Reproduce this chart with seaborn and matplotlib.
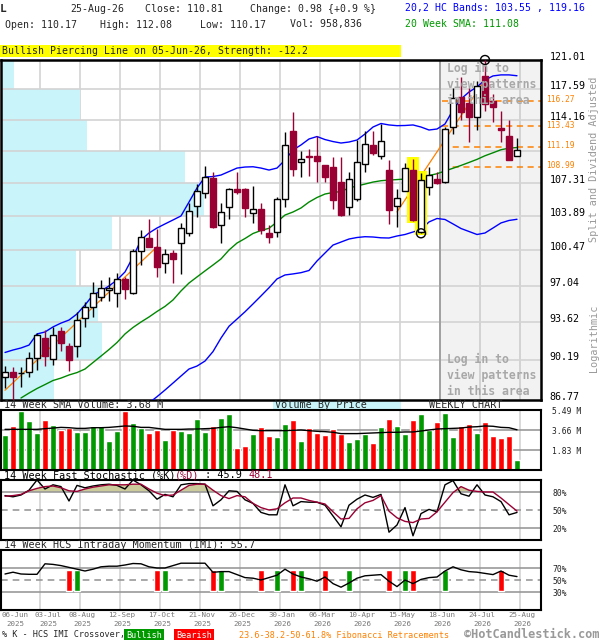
import numpy as np
import pandas as pd
import seaborn as sns
import matplotlib.pyplot as plt
from matplotlib.patches import Rectangle
from matplotlib.ticker import NullLocator, NullFormatter
from matplotlib.transforms import blended_transform_factory, ScaledTranslation

sns.set_theme(style="white")
plt.rcParams['font.family'] = ['DejaVu Sans Mono', 'DejaVu Sans']

# weekly candles, 06-Jun-2025 .. 25-Aug-2026
opens = [88.71, 89.20, 89.10, 89.20, 90.38, 92.16, 90.29, 92.83, 91.47, 91.47,
         93.99, 95.01, 96.00, 96.63, 96.32, 97.65, 96.38, 100.38, 101.64, 100.74,
         99.19, 100.16, 101.14, 102.20, 104.87, 106.21, 107.78, 102.98, 104.80, 106.66,
         106.63, 104.15, 104.59, 102.20, 102.30, 105.59, 112.92, 109.55, 110.19, 110.19,
         109.16, 109.02, 107.42, 104.83, 105.63, 109.33, 111.36, 110.19, 108.70, 104.88,
         106.50, 108.70, 102.30, 106.88, 107.71, 107.42, 113.34, 116.69, 115.99, 114.41,
         119.16, 116.26, 113.26, 112.37, 110.17]
highs = [89.73, 89.61, 89.64, 90.97, 92.65, 92.92, 93.22, 93.22, 91.77, 94.60,
         95.53, 97.42, 97.58, 97.84, 98.28, 97.84, 100.55, 102.47, 103.55, 102.54,
         100.55, 100.48, 103.15, 105.18, 107.18, 109.08, 108.48, 105.18, 106.77, 108.41,
         106.74, 106.97, 105.18, 102.98, 105.80, 112.81, 115.04, 110.73, 110.89, 112.34,
         109.16, 110.05, 110.05, 108.48, 111.93, 112.89, 112.89, 113.66, 109.76, 106.63,
         109.41, 109.84, 108.31, 108.94, 108.48, 113.34, 117.73, 119.04, 117.73, 118.50,
         121.01, 117.01, 115.07, 114.11, 112.08]
lows = [87.77, 86.60, 87.90, 88.77, 89.35, 89.70, 89.79, 91.06, 89.29, 90.52,
        93.22, 94.13, 95.60, 95.63, 95.07, 95.76, 96.25, 99.02, 100.74, 97.90,
        98.28, 97.32, 98.16, 101.87, 103.76, 105.70, 102.64, 101.14, 103.55, 106.11,
        103.82, 103.21, 102.07, 101.14, 101.80, 104.83, 108.06, 107.89, 108.03, 107.42,
        107.39, 104.59, 103.88, 103.95, 105.40, 108.48, 110.27, 109.84, 103.06, 102.81,
        106.42, 103.36, 102.14, 106.04, 107.14, 107.28, 112.58, 114.11, 111.67, 112.95,
        115.12, 113.92, 111.67, 109.70, 110.17]
closes = [89.20, 88.71, 89.13, 90.38, 92.47, 90.61, 92.47, 91.71, 90.23, 93.83,
          95.01, 96.32, 96.79, 96.79, 97.65, 96.70, 100.38, 101.74, 100.80, 98.86,
          100.06, 99.58, 102.64, 104.42, 106.42, 107.89, 102.80, 104.31, 106.63, 106.38,
          104.70, 104.56, 102.47, 101.80, 105.59, 111.36, 108.80, 109.81, 110.02, 109.62,
          107.95, 105.52, 103.98, 107.71, 109.55, 111.44, 110.45, 111.74, 104.54, 105.72,
          108.88, 103.46, 107.60, 108.09, 107.25, 113.15, 116.57, 115.04, 114.48, 117.92,
          115.91, 115.54, 113.00, 109.76, 110.81]

# volume in millions
volumes = [3.20, 4.03, 5.43, 4.48, 3.39, 4.58, 4.12, 3.63, 3.81, 3.48,
           3.48, 4.03, 4.03, 2.65, 3.57, 5.43, 4.30, 3.87, 3.39, 3.69,
           2.75, 3.69, 3.57, 3.39, 4.67, 3.48, 4.03, 4.76, 5.12, 2.01,
           2.20, 3.29, 3.93, 3.11, 3.02, 4.21, 4.58, 2.65, 3.84, 3.39,
           3.20, 3.75, 3.26, 2.56, 2.84, 3.32, 2.47, 3.93, 4.67, 4.03,
           3.32, 4.58, 5.12, 3.66, 4.39, 5.22, 3.02, 4.03, 4.21, 3.39,
           4.39, 3.11, 2.93, 3.11, 0.96]
vol_sma = [3.72, 3.72, 3.72, 3.72, 3.72, 3.78, 3.84, 3.90, 3.87, 3.81,
           3.81, 3.87, 3.87, 3.90, 3.96, 4.03, 4.00, 3.90, 3.90, 3.81,
           3.72, 3.72, 3.72, 3.75, 3.75, 3.78, 3.81, 3.90, 3.96, 3.87,
           3.75, 3.63, 3.60, 3.60, 3.60, 3.60, 3.63, 3.66, 3.60, 3.54,
           3.51, 3.45, 3.33, 3.33, 3.33, 3.36, 3.39, 3.42, 3.45, 3.45,
           3.48, 3.48, 3.57, 3.66, 3.75, 3.78, 3.81, 3.84, 3.93, 3.96,
           4.03, 4.00, 3.90, 3.87, 3.68]

nan = np.nan
hc_upper = [90.90, 91.12, 91.30, 91.56, 92.56, 92.74, 93.20, 93.55, 93.83, 94.39,
            95.22, 96.16, 96.54, 97.01, 97.58, 98.35, 99.80, 101.47, 102.17, 102.67,
            103.08, 103.48, 103.89, 105.31, 106.77, 107.92, 107.97, 108.13, 108.50, 108.87,
            108.98, 109.01, 108.87, 108.66, 108.87, 109.73, 110.81, 111.36, 112.01, 112.28,
            111.95, 111.73, 111.57, 111.68, 111.90, 112.56, 113.33, 113.72, 113.56, 113.48,
            113.50, 113.56, 113.33, 113.00, 113.11, 113.67, 115.23, 116.48, 117.28, 117.86,
            118.67, 119.14, 119.26, 119.26, 119.16]
hc_lower = [nan] * 18 + [
            86.52, 87.05, 87.62, 88.22, 88.83, 89.44, 89.70, 90.14, 90.98, 92.19,
            93.26, 93.92, 94.59, 95.32, 96.07, 96.84, 97.68, 98.06, 98.16, 98.28,
            98.49, 99.41, 100.19, 100.97, 101.27, 101.57, 101.72, 101.80, 101.77, 101.69,
            101.67, 101.87, 102.02, 102.27, 102.52, 103.28, 103.63, 103.53, 103.08, 102.62,
            102.32, 102.02, 102.17, 102.67, 103.18, 103.43, 103.55]
sma20 = [nan, nan, 86.94, 87.36, 87.75, 88.09, 88.44, 88.65, 88.92, 89.13,
         89.44, 90.01, 90.58, 91.16, 91.79, 92.56, 93.15, 93.65, 94.11, 94.62,
         95.09, 95.69, 96.54, 97.29, 97.87, 98.45, 99.02, 99.61, 100.48, 101.17,
         101.62, 102.12, 102.42, 102.64, 103.28, 103.98, 104.29, 104.70, 105.31, 105.78,
         106.14, 106.30, 106.40, 106.77, 106.98, 107.18, 107.39, 107.53, 107.60, 107.65,
         107.71, 107.78, 107.92, 108.08, 108.27, 108.56, 108.85, 109.15, 109.47, 109.80,
         110.19, 110.51, 110.84, 111.01, 111.08]

stoch_k = [74, 72, 75, 83, 100, 85, 92, 89, 65, 91,
           87, 90, 92, 93, 91, 85, 100, 92, 82, 68,
           76, 72, 92, 94, 94, 93, 57, 67, 82, 81,
           67, 61, 46, 42, 42, 92, 57, 64, 63, 63,
           58, 40, 22, 58, 68, 75, 71, 76, 13, 25,
           54, 7, 44, 51, 47, 92, 99, 77, 73, 92,
           75, 72, 64, 42, 45.9]
stoch_d = [73, 74, 76, 82, 86, 89, 90, 87, 82, 81,
           85, 88, 90, 92, 92, 92, 93, 93, 85, 78,
           74, 75, 83, 91, 93, 93, 83, 74, 69, 74,
           72, 61, 54, 50, 52, 62, 70, 70, 66, 63,
           60, 47, 35, 36, 52, 62, 66, 74, 48, 37,
           31, 29, 35, 36, 47, 63, 79, 89, 83, 81,
           80, 80, 70, 59, 48.1]
imi = [60, 63, 60, 59.5, 59.5, 77, 76, 74, 71, 68,
       65, 68, 72, 73, 73, 75, 77.5, 77, 72, 70,
       70, 74, 78, 78, 78, 78, 62.8, 64, 64, 59,
       54, 53, 50, 54, 58, 68, 60, 55, 52, 48,
       55, 44, 38, 45, 53, 57, 58, 59, 48, 39,
       50, 44, 51, 54, 55, 65, 72, 67, 64, 63,
       61, 59, 65, 58, 55.7]
bullish_weeks = [9, 20, 27, 34, 37, 43, 50, 55]
bearish_weeks = [8, 19, 26, 32, 36, 40, 48, 51, 62]

price_ticks = [86.77, 90.19, 93.62, 97.04, 100.47, 103.89, 107.31, 110.74, 114.16, 117.59, 121.01]
# volume by price, share of volume per band (bottom band first)
vbp_share = [5.3, 10.1, 9.7, 7.5, 11.1, 20.3, 18.4, 8.6, 7.9, 1.3]
fib_levels = [116.27, 113.43, 111.19, 108.99]
swing_left_weeks, swing_left_prices = [0, 19], [87.6, 100.8]
swing_right_weeks, swing_right_prices = [49, 60], [104.3, 118.7]
pattern_weeks = [51, 52]
date_labels = ['06-Jun 2025', '03-Jul 2025', '08-Aug 2025', '12-Sep 2025', '17-Oct 2025',
               '21-Nov 2025', '26-Dec 2025', '30-Jan 2026', '06-Mar 2026', '10-Apr 2026',
               '15-May 2026', '18-Jun 2026', '24-Jul 2026', '25-Aug 2026']

df = pd.DataFrame({'week': np.arange(len(closes)), 'open': opens, 'high': highs, 'low': lows,
                   'close': closes, 'volume': volumes, 'vol_sma': vol_sma, 'hc_upper': hc_upper,
                   'hc_lower': hc_lower, 'sma20': sma20, 'k': stoch_k, 'd': stoch_d, 'imi': imi})
df['up'] = df['close'] >= df['open']

W, H = 600, 640
X_MIN, X_MAX = -0.5, 67.0
grid_x = np.arange(1, 14) * 5 - 0.625

MAROON = '#990033'
GREEN = '#009900'
RED = '#ff0000'
ORANGE = '#ff8000'
GRID = '#d3d3d3'
MIDGRAY = '#999999'
MONO = 'DejaVu Sans Mono'

fig = plt.figure(figsize=(W / 100, H / 100), dpi=100)


def fx(px):
    return px / W


def fy(py):
    return 1 - py / H


def panel(top, bottom):
    a = fig.add_axes([fx(1), fy(bottom), fx(541) - fx(1), fy(top) - fy(bottom)])
    a.set_facecolor('white')
    for g in grid_x:
        a.axvline(g, color=GRID, lw=1.2, zorder=0.5)
    return a


def finish(a, ticks, labels, size):
    a.set_xlim(X_MIN, X_MAX)
    a.set_xticks([])
    a.set_xlabel('')
    a.set_ylabel('')
    a.yaxis.tick_right()
    a.set_yticks(ticks)
    a.set_yticklabels(labels)
    a.yaxis.set_minor_locator(NullLocator())
    a.yaxis.set_minor_formatter(NullFormatter())
    a.tick_params(axis='y', length=0, pad=8, labelsize=size, labelcolor='#222222')
    for s in a.spines.values():
        s.set_color('black')
        s.set_linewidth(1.5)


# ---------------- price panel ----------------
ax = panel(60, 400)
ax.set_yscale('log')
ax.axvspan(grid_x[10], X_MAX, color='#f2f2f2', lw=0, zorder=0)
for g in grid_x[10:]:
    ax.axvline(g, color=GRID, lw=1.2, zorder=0.6)
vbp_scale = (X_MAX - X_MIN) / 54.0
ax.barh(price_ticks[:-1], np.array(vbp_share) * vbp_scale, height=np.diff(price_ticks),
        left=X_MIN, align='edge', color='#c8f4fa', lw=0, zorder=1)
for t in price_ticks[1:-1]:
    ax.axhline(t, color=GRID, lw=1.2, zorder=1.5)
ax.axvline(grid_x[10], color=MIDGRAY, lw=1.2, zorder=1.6)

ax.hlines(fib_levels, 54.6, X_MAX, colors=ORANGE, linestyles=(0, (4, 3)), lw=1.1, zorder=2.5)
sns.lineplot(data=df, x='week', y='sma20', color='#008800', linewidth=1, ax=ax, legend=False, zorder=3)
sns.lineplot(data=df, x='week', y='hc_upper', color='#0000ff', linewidth=1, ax=ax, legend=False, zorder=3)
sns.lineplot(data=df, x='week', y='hc_lower', color='#0000ff', linewidth=1, ax=ax, legend=False, zorder=3)
ax.plot(swing_left_weeks, swing_left_prices, color=ORANGE, lw=0.9, zorder=3.2)
ax.plot(swing_right_weeks, swing_right_prices, color=ORANGE, lw=0.9, zorder=3.2)

for w in pattern_weeks:
    lo, hi = lows[w] * 0.998, highs[w] * 1.002
    ax.add_patch(Rectangle((w - 0.72, lo), 1.44, hi - lo, facecolor='#ffff00',
                           edgecolor='none', zorder=3.5))

up = df['up'].values
ax.vlines(df['week'], df['low'], df['high'], colors=np.where(up, 'black', MAROON), lw=1, zorder=4)
ax.bar(df['week'], (df['close'] - df['open']).abs(), bottom=np.minimum(df['open'], df['close']),
       width=0.72, color=np.where(up, 'white', MAROON), edgecolor=np.where(up, 'black', MAROON),
       linewidth=1, zorder=5)
ax.scatter([60], [highs[60]], s=42, facecolors='none', edgecolors='black', linewidths=1,
           zorder=6, clip_on=False)
ax.scatter([52], [lows[52]], s=42, facecolors='none', edgecolors='black', linewidths=1,
           zorder=6, clip_on=False)

ax.set_ylim(price_ticks[0], price_ticks[-1])
price_labels = [f'{t:.2f}' if min(abs(t - f) for f in fib_levels) > 0.6 else '' for t in price_ticks]
finish(ax, price_ticks, price_labels, 7.2)
ax.tick_params(axis='y', pad=6, labelcolor='black')
lift = ScaledTranslation(0, 4 / 100, fig.dpi_scale_trans)
for lab in ax.get_yticklabels():
    lab.set_transform(lab.get_transform() + lift)
for s in ax.spines.values():
    s.set_linewidth(1.8)

tr = blended_transform_factory(ax.transAxes, ax.transData) + ScaledTranslation(0, 1 / 100, fig.dpi_scale_trans)
for lvl in fib_levels:
    ax.text(1 + 5 / 540, lvl, f'{lvl:.2f}', transform=tr, color=ORANGE, fontsize=5.7,
            va='center', ha='left', family=MONO)

for top in (62, 353):
    fig.text(fx(447), fy(top), 'Log in to\nview patterns\nin this area', ha='left', va='top',
             fontsize=8.3, weight='bold', color='#a8a8a8', linespacing=1.3, family=MONO)

fig.text(fx(594), fy(159), 'Split and Dividend Adjusted', rotation=90, ha='center', va='center',
         fontsize=7.3, color=MIDGRAY, family=MONO)
fig.text(fx(594), fy(338), 'Logarithmic', rotation=90, ha='center', va='center',
         fontsize=7.3, color=MIDGRAY, family=MONO)

# ---------------- volume panel ----------------
axv = panel(410, 470)
for v in (1.83, 3.66):
    axv.axhline(v, color=MIDGRAY, lw=1.2, zorder=1)
axv.bar(df['week'], df['volume'], width=0.75, color=np.where(up, GREEN, RED), zorder=2)
sns.lineplot(data=df, x='week', y='vol_sma', color='black', linewidth=1, ax=axv, legend=False, zorder=3)
axv.set_ylim(0, 5.49)
finish(axv, [5.49, 3.66, 1.83], ['5.49 M', '3.66 M', '1.83 M'], 5.8)

# ---------------- stochastic panel ----------------
axs = panel(480, 540)
dv = df['d'].values
axs.fill_between(df['week'], dv, 80, where=dv > 80, interpolate=True, color='#cbcb9c', lw=0, zorder=1)
axs.axhline(80, color=MIDGRAY, lw=1.2, zorder=1.5)
axs.axhline(20, color=MIDGRAY, lw=1.2, zorder=1.5)
axs.axhline(50, color=MIDGRAY, lw=1.2, ls=(0, (4, 3)), zorder=1.5)
sns.lineplot(data=df, x='week', y='k', color='black', linewidth=1, ax=axs, legend=False, zorder=3)
sns.lineplot(data=df, x='week', y='d', color=MAROON, linewidth=1, ax=axs, legend=False, zorder=3)
axs.set_ylim(0, 100)
finish(axs, [80, 50, 20], ['80%', '50%', '20%'], 5.8)

# ---------------- IMI panel ----------------
axi = panel(550, 610)
axi.axhline(70, color=MIDGRAY, lw=1.2, zorder=1.5)
axi.axhline(30, color=MIDGRAY, lw=1.2, zorder=1.5)
axi.axhline(50, color=MIDGRAY, lw=1.2, ls=(0, (4, 3)), zorder=1.5)
axi.bar(bullish_weeks, 35, bottom=32, width=0.75, color=GREEN, zorder=2)
axi.bar(bearish_weeks, 35, bottom=32, width=0.75, color=RED, zorder=2)
sns.lineplot(data=df, x='week', y='imi', color='black', linewidth=1, ax=axi, legend=False, zorder=3)
axi.set_ylim(0, 100)
finish(axi, [70, 50, 30], ['70%', '50%', '30%'], 5.8)

date_pos = np.r_[1.25, grid_x + 0.25]
date_pos[1] += 0.75
trd = blended_transform_factory(axi.transData, axi.transAxes)
for xp, lab in zip(date_pos, date_labels):
    day, year = lab.split()
    axi.text(xp, -0.09, day, transform=trd, ha='center', va='center', fontsize=5.4,
             color='#777777', family=MONO)
    axi.text(xp, -0.235, year, transform=trd, ha='center', va='center', fontsize=5.4,
             color='#777777', family=MONO)

# ---------------- header / captions ----------------
FS = 7.1
fig.text(fx(0), fy(9.5), 'L', fontsize=8, weight='bold', va='center', family=MONO)
for xp, txt in [(70, '25-Aug-26'), (145, 'Close: 110.81'), (250, 'Change: 0.98 {+0.9 %}')]:
    fig.text(fx(xp), fy(9.5), txt, fontsize=FS, va='center', family=MONO)
for xp, txt in [(5, 'Open: 110.17'), (100, 'High: 112.08'), (200, 'Low: 110.17'), (290, 'Vol: 958,836')]:
    fig.text(fx(xp), fy(24.5), txt, fontsize=FS, va='center', family=MONO)
fig.text(fx(405), fy(8.5), '20,2 HC Bands: 103.55 , 119.16', fontsize=FS, va='center',
         color='#0000ff', family=MONO)
fig.text(fx(405), fy(24), '20 Week SMA: 111.08', fontsize=FS, va='center', color=GREEN, family=MONO)

fig.patches.append(Rectangle((fx(0), fy(57)), fx(401), fy(45.5) - fy(57), transform=fig.transFigure,
                             facecolor='#ffff00', edgecolor='none', zorder=-1))
fig.text(fx(2), fy(51.5), 'Bullish Piercing Line on 05-Jun-26, Strength: -12.2', fontsize=FS,
         va='center', family=MONO)

HS = 7.3
cw = 0.602 * HS * 100 / 72
fig.text(fx(4), fy(405.5), '14 Week SMA Volume: 3.68 M', fontsize=HS, va='center', family=MONO)
fig.patches.append(Rectangle((fx(273), fy(410)), fx(401) - fx(273), fy(400.5) - fy(410),
                             transform=fig.transFigure, facecolor='#c8f4fa', edgecolor='none', zorder=-1))
fig.text(fx(275), fy(405.5), 'Volume By Price', fontsize=HS, va='center', family=MONO)
fig.text(fx(429), fy(405.5), 'WEEKLY CHART', fontsize=HS, va='center', family=MONO)

for n_chars, txt, col in [(0, '14 Week Fast Stochastic (%K)', 'black'), (28, '(%D)', MAROON),
                          (32, ' : 45.9', 'black'), (40, '48.1', MAROON)]:
    fig.text(fx(4 + n_chars * cw), fy(475.5), txt, fontsize=HS, va='center', color=col, family=MONO)
fig.text(fx(4), fy(545.5), '14 Week HCS Intraday Momentum (IMI): 55.7', fontsize=HS, va='center',
         family=MONO)

LS = 6.1
fig.text(fx(2), fy(635), '% K - HCS IMI Crossover,', fontsize=LS, va='center', family=MONO)
fig.text(fx(144), fy(635), 'Bullish', fontsize=LS, va='center', ha='center', color='white', family=MONO,
         bbox=dict(facecolor=GREEN, edgecolor='none', pad=1.3))
fig.text(fx(194), fy(635), 'Bearish', fontsize=LS, va='center', ha='center', color='white', family=MONO,
         bbox=dict(facecolor=RED, edgecolor='none', pad=1.3))
fig.text(fx(239), fy(635), '23.6-38.2-50-61.8% Fibonacci Retracements', fontsize=LS, va='center',
         color=ORANGE, family=MONO)
fig.text(fx(599), fy(635), '\u00a9HotCandlestick.com', fontsize=8.6, weight='bold', va='center',
         ha='right', color=MIDGRAY, family=MONO)

fig.savefig('out.png', dpi=100, facecolor='white')
